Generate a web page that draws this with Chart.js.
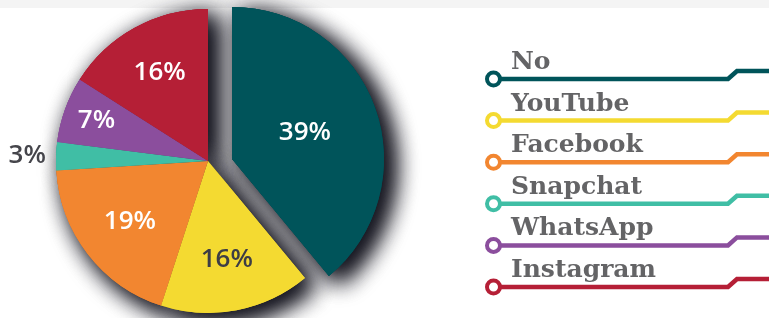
<!DOCTYPE html>
<html>
<head>
<meta charset="utf-8">
<script src="https://cdn.jsdelivr.net/npm/chart.js@4"></script>
<style>
  html, body { margin: 0; padding: 0; background: #fff; }
  #wrap { width: 769px; height: 318px; }
</style>
</head>
<body>
<div id="wrap"><canvas id="chartCanvas" width="769" height="318"></canvas></div>
<script>
// datos del gráfico
const categories = ['No', 'YouTube', 'Facebook', 'Snapchat', 'WhatsApp', 'Instagram'];
const shares = [39, 16, 19, 3, 7, 16];
const colors = ['#00545a', '#f4da31', '#f28630', '#40bea5', '#8b4e9d', '#b51f36'];

// estilo de las etiquetas (posición relativa al radio y color)
const labelRadius = [0.51, 0.66, 0.65, 1.19, 0.78, 0.66];
const labelColor = ['#fff', '#3d3d45', '#fff', '#45454b', '#fff', '#fff'];
const explode = { index: 0, dx: 24, dy: -2 };

// desplaza la porción separada
function wrapArcs(chart) {
  const meta = chart.getDatasetMeta(0);
  meta.data.forEach((arc, i) => {
    if (arc._wrapped) return;
    const orig = arc.draw;
    arc.draw = function (ctx, area) {
      ctx.save();
      if (i === explode.index) ctx.translate(explode.dx, explode.dy);
      orig.call(this, ctx, area);
      ctx.restore();
    };
    arc._wrapped = true;
  });
}

const backdrop = {
  id: 'backdrop',
  beforeDraw(chart) {
    const ctx = chart.ctx;
    ctx.save();
    ctx.fillStyle = '#f4f4f4';
    ctx.fillRect(0, 0, chart.width, 8);
    ctx.restore();
  }
};

const pieShadow = {
  id: 'pieShadow',
  beforeDatasetsDraw(chart) {
    wrapArcs(chart);
    const ctx = chart.ctx;
    ctx.save();
    ctx.shadowColor = 'rgba(22,22,32,1)';
    ctx.shadowBlur = 24;
    ctx.shadowOffsetX = 9;
    ctx.shadowOffsetY = 7;
    // dos pasadas para oscurecer la sombra
    for (let k = 0; k < 2; k++) {
      chart.getDatasetMeta(0).data.forEach(arc => arc.draw(ctx, chart.chartArea));
    }
    ctx.restore();
  }
};

const sliceLabels = {
  id: 'sliceLabels',
  afterDatasetsDraw(chart) {
    const ctx = chart.ctx;
    const meta = chart.getDatasetMeta(0);
    ctx.save();
    ctx.font = '600 26px "Open Sans", sans-serif';
    ctx.textAlign = 'center';
    ctx.textBaseline = 'middle';
    meta.data.forEach((arc, i) => {
      const p = arc.getProps(['x', 'y', 'startAngle', 'endAngle', 'outerRadius'], true);
      const mid = (p.startAngle + p.endAngle) / 2;
      const r = p.outerRadius * labelRadius[i];
      let x = p.x + Math.cos(mid) * r;
      let y = p.y + Math.sin(mid) * r;
      if (i === explode.index) { x += explode.dx; y += explode.dy; }
      ctx.fillStyle = labelColor[i];
      ctx.fillText(shares[i] + '%', x, y);
    });
    ctx.restore();
  }
};

const lineLegend = {
  id: 'lineLegend',
  afterDraw(chart) {
    const ctx = chart.ctx;
    const x0 = 493.5, bendX = 728, step = 41.6, top = 79;
    ctx.save();
    categories.forEach((name, i) => {
      const y = top + i * step;
      ctx.strokeStyle = colors[i];
      ctx.lineWidth = 4.5;
      ctx.lineJoin = 'miter';
      ctx.beginPath();
      ctx.moveTo(x0, y);
      ctx.lineTo(bendX, y);
      ctx.lineTo(bendX + 9, y - 8);
      ctx.lineTo(chart.width + 5, y - 8);
      ctx.stroke();
      ctx.beginPath();
      ctx.arc(x0, y, 6.5, 0, Math.PI * 2);
      ctx.fillStyle = '#fff';
      ctx.fill();
      ctx.lineWidth = 4;
      ctx.stroke();
      ctx.fillStyle = '#646466';
      ctx.font = '700 25px "DejaVu Serif", serif';
      ctx.textAlign = 'left';
      ctx.textBaseline = 'alphabetic';
      ctx.fillText(name, 511, y - 10);
    });
    ctx.restore();
  }
};

document.addEventListener('DOMContentLoaded', () => {
  const ctx = document.getElementById('chartCanvas').getContext('2d');
  new Chart(ctx, {
    type: 'pie',
    data: {
      labels: categories,
      datasets: [{
        data: shares,
        backgroundColor: colors,
        borderWidth: 0,
        radius: 152,
        clip: false
      }]
    },
    options: {
      responsive: false,
      animation: false,
      layout: { padding: { left: 0, top: 4, right: 353, bottom: 0 } },
      plugins: {
        legend: { display: false },
        tooltip: { enabled: false }
      }
    },
    plugins: [backdrop, pieShadow, sliceLabels, lineLegend]
  });
});
</script>
</body>
</html>
